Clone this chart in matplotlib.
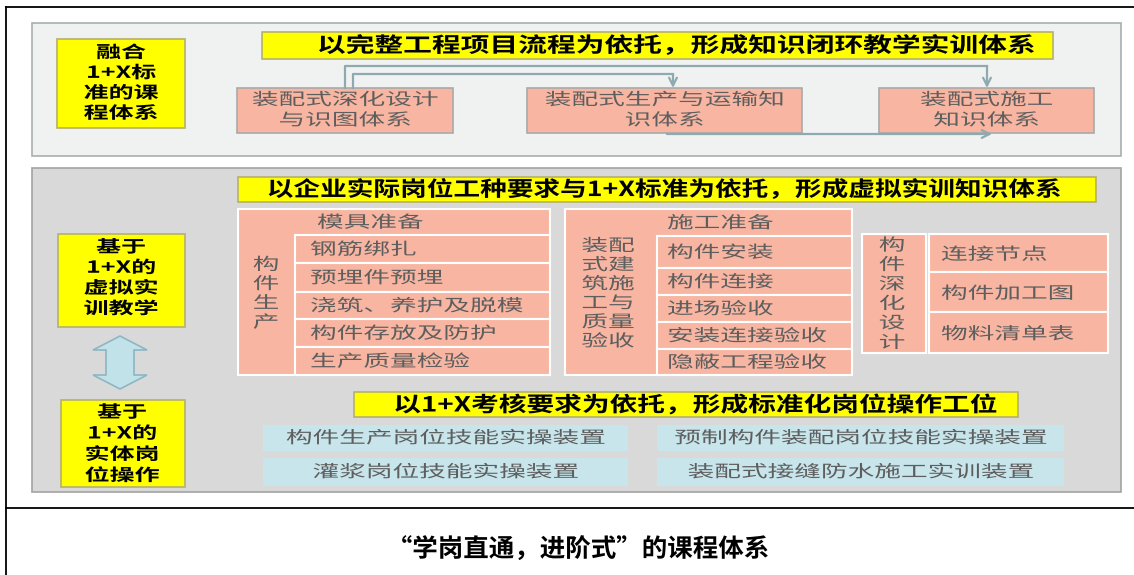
import matplotlib
matplotlib.use("Agg")
import matplotlib.pyplot as plt
from matplotlib.patches import Rectangle, Polygon
from matplotlib.patheffects import AbstractPathEffect
from matplotlib.transforms import Affine2D

plt.rcParams['font.family'] = ['Noto Sans CJK SC', 'DejaVu Sans']

# ==== TEXT CONTENT ====
course_label = "融合\n1+X标\n准的课\n程体系"
virtual_label = "基于\n1+X的\n虚拟实\n训教学"
physical_label = "基于\n1+X的\n实体岗\n位操作"
banners = ["以完整工程项目流程为依托，形成知识闭环教学实训体系",
           "以企业实际岗位工种要求与1+X标准为依托，形成虚拟实训知识体系",
           "以1+X考核要求为依托，形成标准化岗位操作工位"]
knowledge_systems = ["装配式深化设计\n与识图体系", "装配式生产与运输知\n识体系", "装配式施工\n知识体系"]
production_group = "构\n件\n生\n产"
production_steps = ["模具准备", "钢筋绑扎", "预埋件预埋", "浇筑、养护及脱模", "构件存放及防护", "生产质量检验"]
construction_group = "装配\n式建\n筑施\n工与\n质量\n验收"
construction_steps = ["施工准备", "构件安装", "构件连接", "进场验收", "安装连接验收", "隐蔽工程验收"]
design_group = "构\n件\n深\n化\n设\n计"
design_items = ["连接节点", "构件加工图", "物料清单表"]
stations = ["构件生产岗位技能实操装置", "预制构件装配岗位技能实操装置",
            "灌浆岗位技能实操装置", "装配式接缝防水施工实训装置"]
caption = "“学岗直通，进阶式”的课程体系"

# ==== LAYOUT (pixels, y down) ====
prod_rows = [209, 235, 263, 292, 319, 347, 375]
cons_rows = [209, 236, 268, 295, 322, 349, 375]
design_rows = [234, 272, 312, 353]
sys_boxes = [(237, 453), (527, 802), (879, 1094)]
station_cols = [(263, 628), (657, 1064)]
station_rows = [(425, 451), (458, 486)]

YELLOW = '#ffff00'
YEDGE = '#b5b06a'
PINK = '#f8b6a2'
CYAN = '#c7e5eb'
GREY_TXT = '#5e5e5e'
LINK = '#8fa9b0'


class StretchX(AbstractPathEffect):
    # the source picture is squeezed sideways, widen glyphs about the text anchor
    def __init__(self, text, sx):
        super().__init__()
        self.text = text
        self.sx = sx

    def draw_path(self, renderer, gc, tpath, affine, rgbFace=None):
        cx = self.text.get_transform().transform(self.text.get_position())[0]
        t = Affine2D().translate(-cx, 0).scale(self.sx, 1).translate(cx, 0)
        renderer.draw_path(gc, tpath, affine + t, rgbFace)


fig = plt.figure(figsize=(11.34, 5.75), dpi=100)
ax = fig.add_axes([0, 0, 1, 1])
ax.set_xlim(0, 1134)
ax.set_ylim(575, 0)
ax.axis('off')


def box(x0, x1, y0, y1, fc, ec='none', lw=1.0):
    ax.add_patch(Rectangle((x0, y0), x1 - x0, y1 - y0, facecolor=fc, edgecolor=ec, linewidth=lw))


def label(x, y, s, size=12, sx=1.6, ha='center', color=GREY_TXT, weight='normal', ls=1.2):
    t = ax.text(x, y, s, ha=ha, va='center', fontsize=size, color=color,
                fontweight=weight, linespacing=ls, multialignment='center')
    t.set_path_effects([StretchX(t, sx)])
    return t


# table frame
ax.plot([6, 1134], [7, 7], color='black', lw=1.3)
ax.plot([6, 6], [7, 575], color='black', lw=1.3)
ax.plot([6, 1134], [508, 508], color='black', lw=1.3)

# panels
box(32, 1121, 23, 156, '#f0f1f1', '#a8b0b0', 1.2)
box(32, 1121, 168, 492, '#d9d9d9', '#a3a3a3', 1.2)

# ---- top panel ----
box(57, 185, 39, 128, YELLOW, YEDGE, 1.2)
label(121, 83, course_label, size=12, sx=1.5, color='black', weight='bold', ls=1.16)
box(262, 1053, 32, 59, YELLOW, YEDGE, 1.2)
label(677, 45.5, banners[0], size=15, sx=1.38, color='black', weight='bold')

for (x0, x1), s in zip(sys_boxes, knowledge_systems):
    box(x0, x1, 88, 133, PINK, '#a9a9a9', 1.2)
    label((x0 + x1) / 2, 110.5, s, ls=1.26)

# connectors
ax.plot([345, 345, 987], [88, 66, 66], color=LINK, lw=1.6)
ax.annotate('', xy=(987, 88), xytext=(987, 66),
            arrowprops=dict(arrowstyle='->', color=LINK, lw=1.6, shrinkA=0, shrinkB=0, mutation_scale=14))
ax.plot([353, 353, 673], [88, 74, 74], color=LINK, lw=1.6)
ax.annotate('', xy=(673, 88), xytext=(673, 74),
            arrowprops=dict(arrowstyle='->', color=LINK, lw=1.6, shrinkA=0, shrinkB=0, mutation_scale=14))
ax.annotate('', xy=(992, 134), xytext=(667, 134),
            arrowprops=dict(arrowstyle='->', color=LINK, lw=1.6, shrinkA=0, shrinkB=0, mutation_scale=14))

# ---- lower panel ----
box(58, 185, 234, 327, YELLOW, YEDGE, 1.2)
label(121, 278, virtual_label, size=12, sx=1.5, color='black', weight='bold', ls=1.18)
box(61, 185, 400, 487, YELLOW, YEDGE, 1.2)
label(122, 444, physical_label, size=12, sx=1.5, color='black', weight='bold', ls=1.22)

# double arrow between the two yellow boxes
cx, top, bot, hw, sw, hl = 120, 336, 389, 27, 14, 14
ax.add_patch(Polygon([(cx, top), (cx + hw, top + hl), (cx + sw, top + hl), (cx + sw, bot - hl),
                      (cx + hw, bot - hl), (cx, bot), (cx - hw, bot - hl), (cx - sw, bot - hl),
                      (cx - sw, top + hl), (cx - hw, top + hl)],
                     closed=True, facecolor='#c2e2ea', edgecolor='#8db6c2', lw=1.2))

box(238, 1096, 177, 202, YELLOW, YEDGE, 1.2)
label(665, 189.5, banners[1], size=15, sx=1.28, color='black', weight='bold')

# block: component production
box(238, 550, prod_rows[0], prod_rows[-1], PINK, 'white', 1.5)
for y0, y1 in zip(prod_rows[1:-1], prod_rows[2:]):
    box(295, 550, y0, y1, PINK, 'white', 1.5)
label(266, 294, production_group, ls=1.17)
for i, s in enumerate(production_steps):
    label(317 if i == 0 else 310, (prod_rows[i] + prod_rows[i + 1]) / 2 + 1, s, ha='left')

# block: construction and acceptance
box(565, 852, cons_rows[0], cons_rows[-1], PINK, 'white', 1.5)
for y0, y1 in zip(cons_rows[1:-1], cons_rows[2:]):
    box(657, 852, y0, y1, PINK, 'white', 1.5)
label(608, 294, construction_group, ls=1.16)
for i, s in enumerate(construction_steps):
    label(667, (cons_rows[i] + cons_rows[i + 1]) / 2 + 1, s, ha='left')

# block: deepened design
box(862, 926, design_rows[0], design_rows[-1], PINK, 'white', 1.5)
for y0, y1 in zip(design_rows[:-1], design_rows[1:]):
    box(929, 1108, y0, y1, PINK, 'white', 1.5)
label(892, 294.5, design_group, ls=1.19)
for i, s in enumerate(design_items):
    label(941, (design_rows[i] + design_rows[i + 1]) / 2 + 2, s, ha='left')

# stations
box(354, 1018, 392, 417, YELLOW, YEDGE, 1.2)
label(696, 405, banners[2], size=15, sx=1.33, color='black', weight='bold')
for r, (y0, y1) in enumerate(station_rows):
    for c, (x0, x1) in enumerate(station_cols):
        box(x0, x1, y0, y1, CYAN)
        label((x0 + x1) / 2, (y0 + y1) / 2 + 0.5, stations[r * 2 + c])

# caption
label(578, 549, caption, size=18, sx=1.02, color='black', weight='bold')

fig.savefig('out.png', dpi=100)
